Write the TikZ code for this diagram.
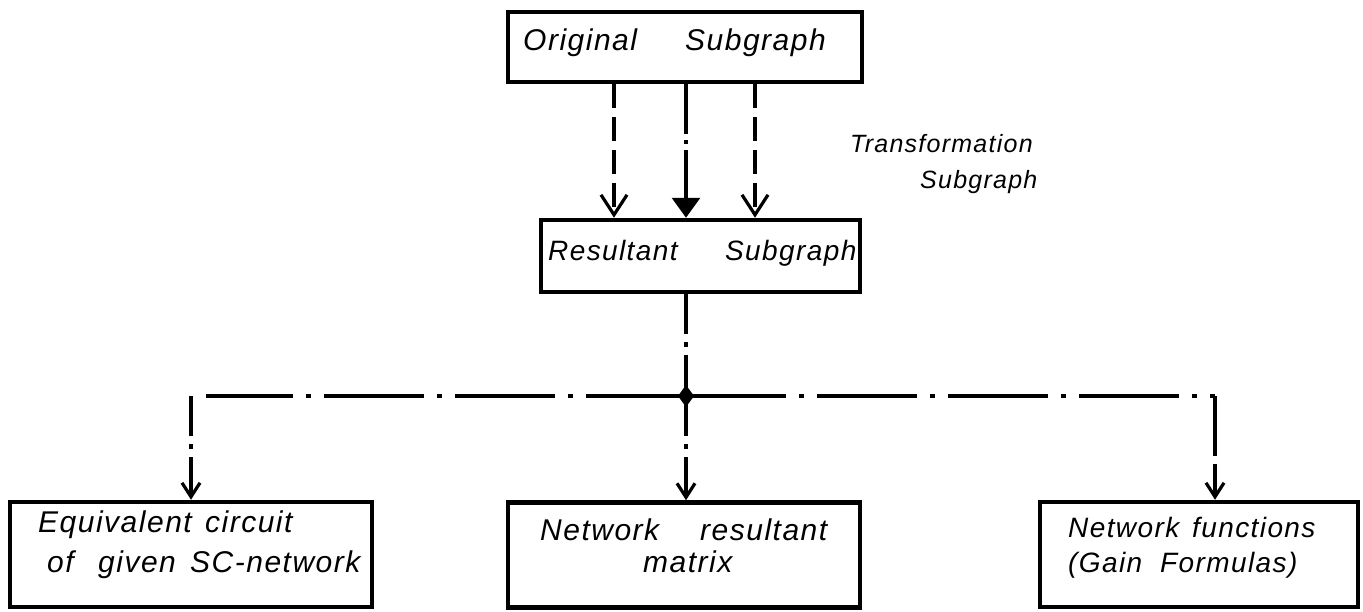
\documentclass[tikz,border=0pt]{standalone}
\usepackage{fontspec}
\setmainfont{Liberation Sans}[LetterSpace=5]
\usetikzlibrary{arrows.meta,shapes.geometric}
\newcommand{\wfix}[2]{\makebox[#1pt][l]{#2}}
\begin{document}
\begin{tikzpicture}[x=1pt,y=-1pt,
  boxn/.style={draw, line width=4.5pt, inner sep=0pt},
  tx/.style={font=\itshape\fontsize{30}{36}\selectfont, inner sep=0pt, anchor=base west},
  conn/.style={line width=3.2pt},
  dashedc/.style={conn, dash pattern=on 24pt off 9pt},
  dashdottop/.style={conn, dash pattern=on 50pt off 6pt on 4pt off 6pt},
  dashdotv/.style={conn, dash pattern=on 40pt off 8pt on 5pt off 8pt},
  dashdoth/.style={conn, dash pattern=on 100pt off 13pt on 5pt off 13pt},
  vtipbig/.tip={Straight Barb[length=20pt,width=26pt]},
  vtipsmall/.tip={Straight Barb[length=14pt,width=18pt]},
  filltip/.tip={Triangle[length=20pt,width=28pt]}]
\fill[white] (0,0) rectangle (1363,611);
\useasboundingbox (0,0) rectangle (1363,611);
% boxes
\node[boxn, minimum width=354pt, minimum height=70pt] (orig) at (685,47) {};
\node[boxn, minimum width=319pt, minimum height=72pt] (res) at (700.5,256) {};
\node[boxn, minimum width=362pt, minimum height=105pt] (eq) at (191,554.5) {};
\node[boxn, minimum width=352pt, minimum height=105pt] (nrm) at (684,555) {};
\node[boxn, minimum width=318pt, minimum height=105pt] (nf) at (1199,554.5) {};
% texts
\node[tx] (t1) at (523,50) {\wfix{162}{Original}Subgraph};
\node[tx, font=\itshape\fontsize{28}{34}\selectfont] (t2) at (548,260) {\wfix{177}{Resultant}Subgraph};
\node[tx, font=\itshape\fontsize{25}{30}\selectfont] (t3) at (850,152) {Transformation};
\node[tx, font=\itshape\fontsize{25}{30}\selectfont] (t4) at (920,188) {Subgraph};
\node[tx] (t5) at (38,532) {\wfix{167}{Equivalent}circuit};
\node[tx] (t6) at (47,572) {\wfix{51}{of}\wfix{92}{given}SC-network};
\node[tx] (t7) at (540,540) {\wfix{160}{Network}resultant};
\node[tx] (t8) at (643,572) {matrix};
\node[tx, font=\itshape\fontsize{28}{34}\selectfont] (t9) at (1068,537) {\wfix{124}{Network}functions};
\node[tx, font=\itshape\fontsize{28}{34}\selectfont] (t10) at (1068,572) {\wfix{92}{(Gain}Formulas)};
% coordinates
\coordinate (c1) at (614,0);
\coordinate (c2) at (686,0);
\coordinate (c3) at (755,0);
\coordinate (j) at (686,396);
\coordinate (jl) at (191,396);
\coordinate (jlh) at (206,396);
\coordinate (jr) at (1215,396);
% top connectors
\draw[dashedc,-{vtipbig}] (orig.south -| c1) -- (res.north -| c1);
\draw[dashdottop,-{filltip}] (orig.south -| c2) -- (res.north -| c2);
\draw[dashedc,-{vtipbig}] (orig.south -| c3) -- (res.north -| c3);
% down to junction
\draw[dashdotv] (res.south -| j) -- (j);
\draw[dashdoth] (j) -- (jlh);
\draw[dashdoth] (j) -- (jr);
\draw[dashdotv,-{vtipsmall}] (jl) -- (eq.north -| jl);
\draw[dashdotv,-{vtipsmall}] (j) -- (nrm.north -| j);
\draw[conn, dash pattern=on 60pt off 8pt, line join=round,-{vtipsmall}] (jr) -- (nf.north -| jr);
\fill[black] ([yshift=11pt]j) -- ([xshift=8pt]j) -- ([yshift=-11pt]j) -- ([xshift=-8pt]j) -- cycle;
\end{tikzpicture}
\end{document}
